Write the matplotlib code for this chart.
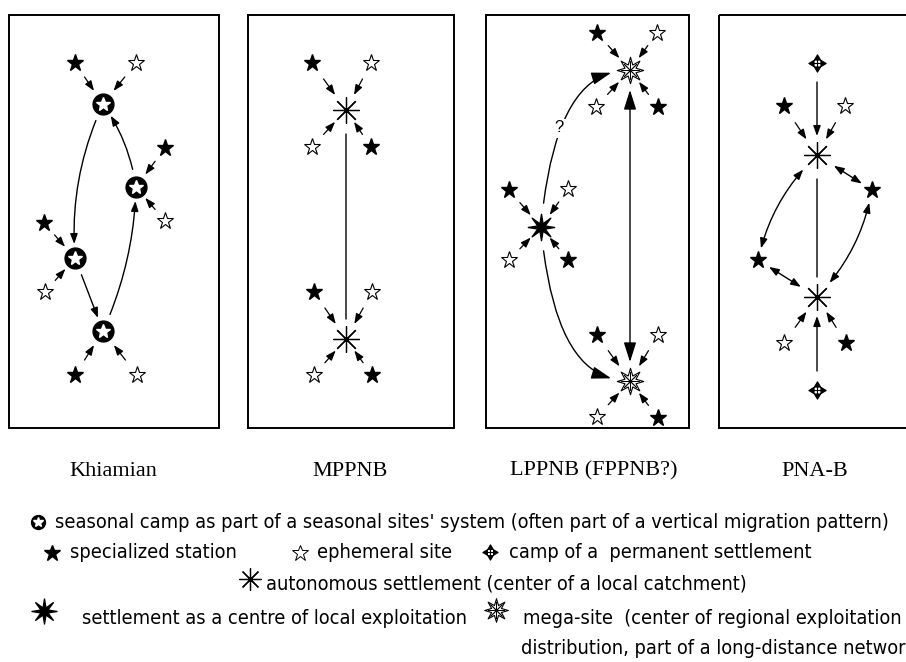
import numpy as np
import matplotlib.pyplot as plt
from matplotlib.path import Path
from matplotlib.patches import Rectangle
from matplotlib import font_manager
from matplotlib.font_manager import FontProperties

# panels (pixel layout of the original figure)
panel_names = ["Khiamian", "MPPNB", "LPPNB (FPPNB?)", "PNA-B"]
panel_left = [9, 248, 486, 719]
panel_right = [219, 454, 689, 940]
label_x = [113, 350, 594, 815]

# hubs
camp_x = [103, 136, 75, 103]      # seasonal camps (Khiamian)
camp_y = [104, 187, 258, 331]
auto_x = [346, 346, 817, 817]     # autonomous settlements
auto_y = [110, 339, 155, 297]
mega_x = [630, 630]               # mega-sites
mega_y = [70, 381]
local_x = [541]                   # settlement as centre of local exploitation
local_y = [227]
perm_x = [817, 817]               # camps of a permanent settlement
perm_y = [63, 390]

# satellite stars and the hub each one feeds
filled_x = [75, 165, 44, 75, 312, 371, 314, 372, 597, 658, 509, 568, 597, 658, 784, 846, 872, 758]
filled_y = [63, 148, 223, 375, 63, 147, 292, 375, 33, 107, 190, 260, 335, 418, 106, 343, 190, 260]
filled_to = ["c0", "c1", "c2", "c3", "a0", "a0", "a1", "a1", "m0", "m0", "l0", "l0",
             "m1", "m1", "a2", "a3", None, None]
open_x = [136, 165, 45, 137, 371, 312, 372, 314, 657, 596, 568, 509, 658, 597, 845, 784]
open_y = [63, 221, 292, 375, 63, 147, 292, 375, 33, 107, 189, 260, 335, 417, 106, 343]
open_to = ["c0", "c1", "c2", "c3", "a0", "a0", "a1", "a1", "m0", "m0", "l0", "l0",
           "m1", "m1", "a2", "a3"]

# links between hubs: one-way, two-way or plain line
link_src = ["c0", "c2", "c3", "c1", "a0", "l0", "l0", "m0", "p0", "p1", "a2", "a2", "f16", "a2", "f17"]
link_dst = ["c2", "c3", "c1", "c0", "a1", "m0", "m1", "m1", "a2", "a3", "a3", "f16", "a3", "f17", "a3"]
link_kind = ["one", "one", "one", "one", "line", "one", "one", "two", "one", "one", "line",
             "two", "two", "two", "two"]

legend_rows = [
    "seasonal camp as part of a seasonal sites' system (often part of a vertical migration pattern)",
    "specialized station", "ephemeral site", "camp of a  permanent settlement",
    "autonomous settlement (center of a local catchment)",
    "settlement as a centre of local exploitation",
    "mega-site  (center of regional exploitation and",
    "distribution, part of a long-distance network)",
]

# ---- node lookup
pos, rad = {}, {}
for i in range(len(camp_x)):
    pos["c%d" % i] = (camp_x[i], camp_y[i]); rad["c%d" % i] = 12
for i in range(len(auto_x)):
    pos["a%d" % i] = (auto_x[i], auto_y[i]); rad["a%d" % i] = 17
for i in range(len(mega_x)):
    pos["m%d" % i] = (mega_x[i], mega_y[i]); rad["m%d" % i] = 17
for i in range(len(local_x)):
    pos["l%d" % i] = (local_x[i], local_y[i]); rad["l%d" % i] = 18
for i in range(len(perm_x)):
    pos["p%d" % i] = (perm_x[i], perm_y[i]); rad["p%d" % i] = 13
for i in range(len(filled_x)):
    pos["f%d" % i] = (filled_x[i], filled_y[i]); rad["f%d" % i] = 10

bends = {("c0", "c2"): "arc3,rad=0.13", ("c3", "c1"): "arc3,rad=0.1",
         ("c1", "c0"): "arc3,rad=0.12", ("l0", "m0"): "angle3,angleA=85,angleB=0",
         ("l0", "m1"): "angle3,angleA=-85,angleB=0", ("f16", "a3"): "arc3,rad=-0.15",
         ("a2", "f17"): "arc3,rad=0.15"}


def star_path(n, inner):
    k = np.arange(2 * n)
    ang = np.pi / 2 + k * np.pi / n
    r = np.where(k % 2 == 0, 1.0, inner)
    v = np.column_stack([r * np.cos(ang), r * np.sin(ang)])
    return Path(np.vstack([v, v[:1]]), closed=True)


def camp_path():
    verts, codes = [], []
    for a in np.radians([0, 90, 180, 270]):
        c, s = np.cos(a), np.sin(a)
        pts = [(0, 0), (0.5, 0), (1.0, 0), (0.4, 0.36), (0.4, -0.36), (1.0, 0)]
        verts += [(x * c - y * s, x * s + y * c) for x, y in pts]
        codes += [Path.MOVETO, Path.LINETO, Path.MOVETO, Path.LINETO, Path.LINETO, Path.CLOSEPOLY]
    return Path(verts, codes)


local_marker = star_path(8, 0.3)
mega_marker = star_path(8, 0.45)
perm_marker = camp_path()
px = 0.72  # points per pixel at dpi 100

# a narrow sans for the key if one is installed
legend_font = FontProperties(family=["Liberation Sans", "DejaVu Sans"])
for f in font_manager.fontManager.ttflist:
    if ("Narrow" in f.name or f.stretch in ("condensed", "semi-condensed")) and \
            f.style == "normal" and f.weight in (400, "normal", "regular") and "Serif" not in f.name \
            and "Mono" not in f.name:
        legend_font = FontProperties(fname=f.fname)
        break

fig = plt.figure(figsize=(9.06, 6.62), dpi=100)
ax = fig.add_axes([0, 0, 1, 1])
ax.set_xlim(0, 906)
ax.set_ylim(662, 0)
ax.axis("off")

# panel frames and titles
for name, l, r, lx in zip(panel_names, panel_left, panel_right, label_x):
    ax.add_patch(Rectangle((l, 15), r - l, 413, fill=False, lw=1.4, ec="black"))
    ax.text(lx, 471, name, family="Liberation Serif", fontsize=16, ha="center", va="center")


def arrow(p, q, style, conn="arc3,rad=0", sa=0, sb=0, big=False, lw=0.9):
    if big:
        hl, hw = 1.2, 0.38
    else:
        hl, hw = 0.6, 0.22
    if style == "->":
        st = "-|>,head_length=%g,head_width=%g" % (hl, hw)
    elif style == "<->":
        st = "<|-|>,head_length=%g,head_width=%g" % (hl, hw)
    else:
        st = "-"
    ax.annotate("", xy=q, xytext=p,
                arrowprops=dict(arrowstyle=st, connectionstyle=conn, shrinkA=sa, shrinkB=sb,
                                lw=lw, color="black", mutation_scale=10), zorder=2)


# short feeder arrows from satellites
for xs, ys, tos in [(filled_x, filled_y, filled_to), (open_x, open_y, open_to)]:
    for x, y, t in zip(xs, ys, tos):
        if t is None:
            continue
        hx, hy = pos[t]
        p = (x + 0.34 * (hx - x), y + 0.34 * (hy - y))
        q = (x + 0.68 * (hx - x), y + 0.68 * (hy - y))
        arrow(p, q, "->")

# links between hubs
for s, d, k in zip(link_src, link_dst, link_kind):
    conn = bends.get((s, d), "arc3,rad=0")
    big = s[0] in "lm"
    if k == "one":
        sa, sb, st = rad[s] + 6, rad[d] + 2, "->"
    elif k == "two":
        sa, sb, st = rad[s] + 3, rad[d] + 2, "<->"
    else:
        sa, sb, st = rad[s] + 7, rad[d] + 3, "-"
    arrow(pos[s], pos[d], st, conn, sa * px, sb * px, big=big, lw=1.0)

ax.text(559, 128, "?", family=["Liberation Sans", "DejaVu Sans"], fontsize=12, ha="center",
        va="center", bbox=dict(fc="white", ec="none", pad=1.5), zorder=3)

# symbols
ax.plot(camp_x, camp_y, "o", ms=15, color="black", zorder=4)
ax.plot(camp_x, camp_y, "*", ms=10, mfc="white", mec="white", zorder=5)
ax.plot(filled_x, filled_y, "*", ms=12.5, color="black", zorder=4)
ax.plot(open_x, open_y, "*", ms=12.5, mfc="white", mec="black", mew=0.8, zorder=4)
ax.plot(auto_x, auto_y, ls="none", marker=(8, 2, 0), ms=19, mec="black", mew=0.9, zorder=4)
ax.plot(mega_x, mega_y, ls="none", marker=mega_marker, ms=19, mfc="white", mec="black", mew=0.8, zorder=4)
ax.plot(mega_x, mega_y, ls="none", marker=(8, 2, 0), ms=13, mec="black", mew=0.6, zorder=5)
ax.plot(local_x, local_y, ls="none", marker=local_marker, ms=19, color="black", zorder=4)
ax.plot(perm_x, perm_y, ls="none", marker=perm_marker, ms=12.5, color="black", mew=0.8, zorder=4)

# legend symbols
ax.plot([38], [522], "o", ms=10, color="black")
ax.plot([38], [522], "*", ms=7, color="white")
ax.plot([52], [553], "*", ms=12, color="black")
ax.plot([300], [553], "*", ms=12, mfc="white", mec="black", mew=0.7)
ax.plot([490], [552], ls="none", marker=perm_marker, ms=11, color="black", mew=0.8)
ax.plot([250], [579], ls="none", marker=(8, 2, 0), ms=16, mec="black", mew=0.9)
ax.plot([44], [611], ls="none", marker=local_marker, ms=18, color="black")
ax.plot([496], [610], ls="none", marker=mega_marker, ms=17, mfc="white", mec="black", mew=0.8)
ax.plot([496], [610], ls="none", marker=(8, 2, 0), ms=12, mec="black", mew=0.6)

# legend texts, sized so that the first row spans the page as in the original
leg_xy = [(55, 522), (70, 553), (317, 553), (509, 553), (266, 584), (82, 618), (523, 618), (521, 648)]
texts = []
for (tx, ty), t in zip(leg_xy, legend_rows):
    texts.append(ax.text(tx, ty, t, fontproperties=legend_font, fontsize=14, ha="left", va="center"))
fig.canvas.draw()
w = texts[0].get_window_extent().width
size = 14 * 838 / w
for t in texts:
    t.set_fontsize(size)

fig.savefig("out.png", dpi=100)
